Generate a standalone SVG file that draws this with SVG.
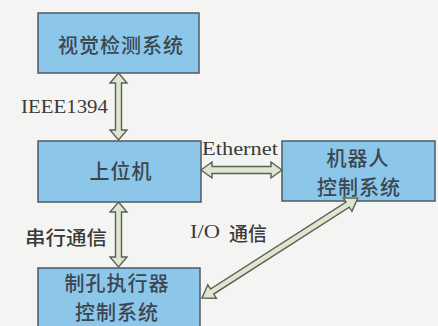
<svg xmlns="http://www.w3.org/2000/svg" width="438" height="326" viewBox="0 0 438 326">
<style>
.box{fill:#8cc7ea;stroke:#4d5a66;stroke-width:1.5}
.cn{font-family:"Noto Sans CJK SC",sans-serif;font-size:20px;font-weight:500;fill:#3c4650;text-anchor:middle;dominant-baseline:central;letter-spacing:1px}
.lbl{font-family:"Noto Sans CJK SC",sans-serif;font-size:19px;font-weight:500;fill:#3a3a3a;dominant-baseline:central}
.en{font-family:"Liberation Serif",serif;font-size:19px;fill:#3a3a3a;dominant-baseline:central}
.arr{fill:#dfe6cf;stroke:#5a5f5a;stroke-width:1.4;stroke-linejoin:miter}
</style>
<rect width="438" height="326" fill="#f4f5f2"/>
<g id="vision">
<rect class="box" x="38" y="13" width="161" height="60"/>
<text class="cn" x="121" y="44">视觉检测系统</text>
</g>
<g id="host">
<rect class="box" x="38" y="141" width="163" height="61"/>
<text class="cn" x="121" y="170">上位机</text>
</g>
<g id="robot">
<rect class="box" x="282" y="141" width="153" height="60"/>
<text class="cn" x="358" y="157">机器人</text>
<text class="cn" x="359" y="186">控制系统</text>
</g>
<g id="drill">
<rect class="box" x="38" y="268" width="162" height="70"/>
<text class="cn" x="117" y="282">制孔执行器</text>
<text class="cn" x="117" y="311">控制系统</text>
</g>
<g id="connectors">
<path class="arr" transform="translate(118.5,73) rotate(90)" d="M0,0 L10,-8.5 L10,-3 L57,-3 L57,-8.5 L67,0 L57,8.5 L57,3 L10,3 L10,8.5 Z"/>
<path class="arr" transform="translate(118.5,202) rotate(90)" d="M0,0 L10,-8.5 L10,-3 L55,-3 L55,-8.5 L65,0 L55,8.5 L55,3 L10,3 L10,8.5 Z"/>
<path class="arr" transform="translate(201,170)" d="M0,0 L11,-8 L11,-3.5 L70,-3.5 L70,-8 L81,0 L70,8 L70,3.5 L11,3.5 L11,8 Z"/>
<path class="arr" transform="translate(202,298) rotate(-32.66)" d="M0,0 L12,-8 L12,-3 L173,-3 L173,-8 L185,0 L173,8 L173,3 L12,3 L12,8 Z"/>
<text class="en" x="21" y="106" textLength="87" lengthAdjust="spacingAndGlyphs">IEEE1394</text>
<text class="en" x="202" y="148" textLength="76" lengthAdjust="spacingAndGlyphs">Ethernet</text>
<text class="lbl" x="25" y="236" textLength="82" lengthAdjust="spacingAndGlyphs">串行通信</text>
<text class="en" x="190" y="231" textLength="30" lengthAdjust="spacingAndGlyphs">I/O</text>
<text class="lbl" x="229" y="232">通信</text>
</g>
</svg>
